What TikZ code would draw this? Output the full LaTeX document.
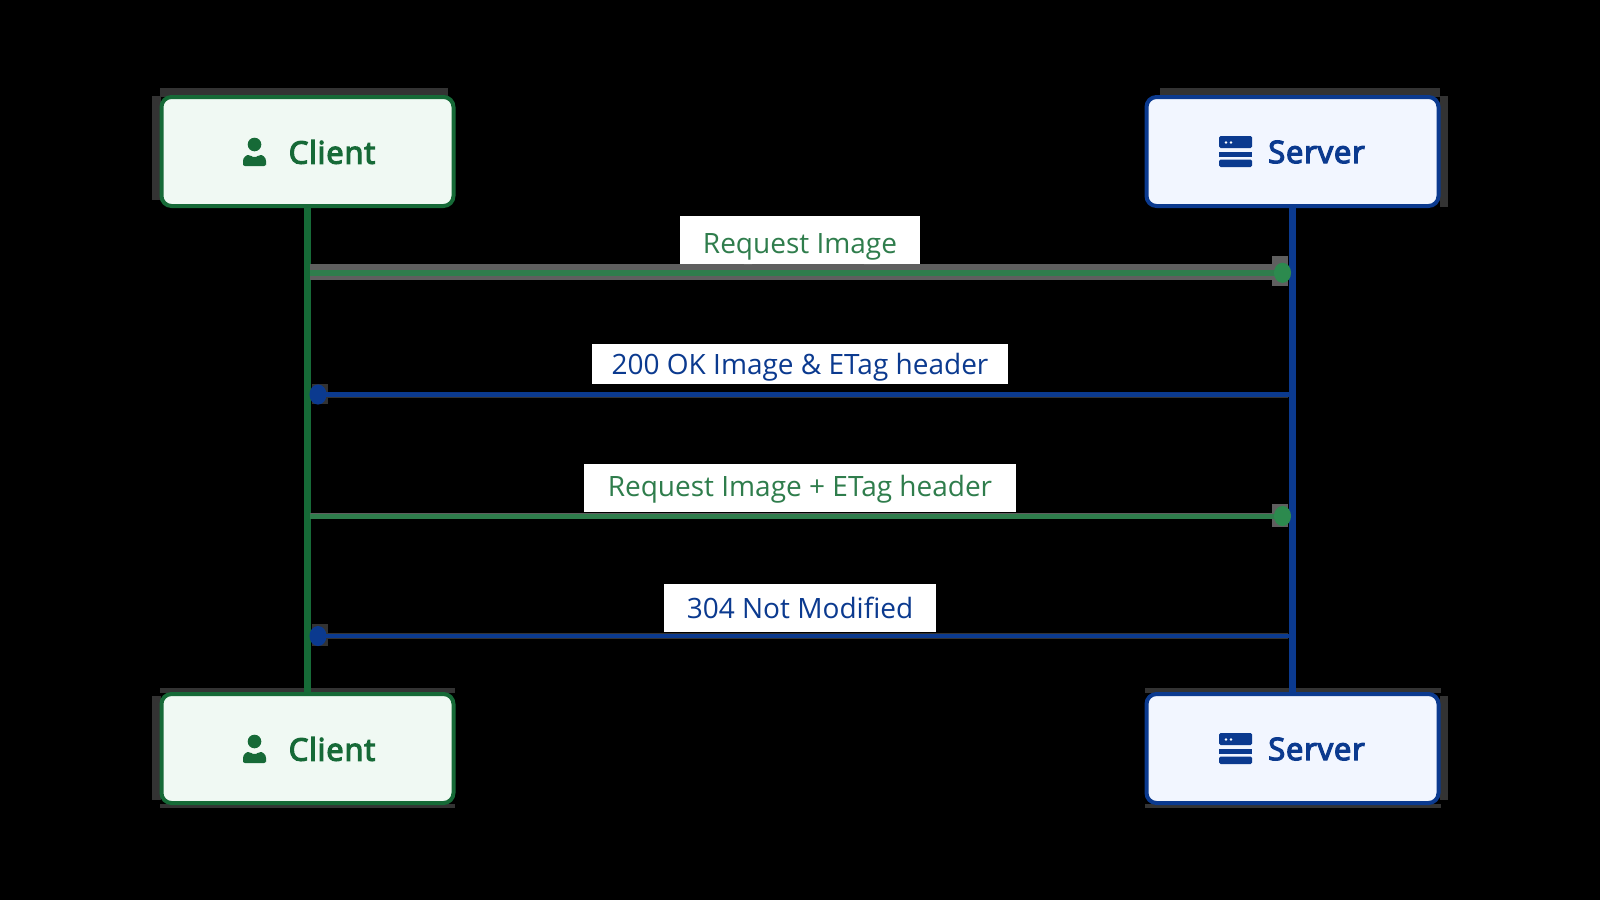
\documentclass[tikz,border=0pt]{standalone}
\usepackage{fontspec}
\setmainfont{Open Sans}
\newfontfamily\medfont[FakeBold=4,LetterSpace=2.5]{Open Sans}
\usetikzlibrary{arrows.meta}
\definecolor{cgreen}{HTML}{166A37}
\definecolor{cfill}{HTML}{F0F9F3}
\definecolor{mgreen}{HTML}{2F7D4C}
\definecolor{hgreen}{HTML}{2C8A4E}
\definecolor{cblue}{HTML}{0B3A8F}
\definecolor{sfill}{HTML}{F2F6FF}
\definecolor{halo}{HTML}{5F5F5F}
\definecolor{halodark}{HTML}{333333}
\newcommand{\lbl}[2]{\raisebox{-#1pt}[0pt][0pt]{#2}}
\tikzset{
  x=1pt,y=-1pt,
  actorbox/.style={draw,line width=4pt,rounded corners=10pt,minimum width=292pt,minimum height=109pt,inner sep=0pt},
  clientbox/.style={actorbox,draw=cgreen,fill=cfill},
  serverbox/.style={actorbox,draw=cblue,fill=sfill},
  actorname/.style={font=\fontsize{31}{36}\selectfont\medfont},
  msglabel/.style={fill=white,inner sep=0pt,font=\fontsize{28}{34}\selectfont},
  greenmsg/.style={draw=mgreen,-{Circle[length=17pt,width=20pt,color=hgreen]}},
  bluemsg/.style={draw=cblue,-{Circle[length=17pt,width=20pt]}},
  halostrip/.style={fill=halodark},
  halomsg/.style={fill=halo},
}
\begin{document}
\begin{tikzpicture}
\useasboundingbox (0,0) rectangle (1600,900);
\fill[black] (0,0) rectangle (1600,900);

% grey traces round the boxes
\fill[halostrip] (160,88) rectangle (448,97);
\fill[halostrip] (152,96) rectangle (161,200);
\fill[halostrip] (1160,88) rectangle (1440,97);
\fill[halostrip] (1440,96) rectangle (1448,207);
\fill[halostrip] (160,688) rectangle (455,693);
\fill[halostrip] (152,696) rectangle (161,800);
\fill[halostrip] (160,804) rectangle (455,808);
\fill[halostrip] (1145,688) rectangle (1441,693);
\fill[halostrip] (1440,696) rectangle (1448,800);
\fill[halostrip] (1145,804) rectangle (1441,808);

\node[clientbox] (ct) at (307.5,151.5) {};
\node[serverbox] (st) at (1292.5,151.5) {};
\node[clientbox] (cb) at (307.5,748.5) {};
\node[serverbox] (sb) at (1292.5,748.5) {};

\node[actorname,text=cgreen] (ctt) at (332,152) {Client};
\node[actorname,text=cblue] (stt) at (1316.5,152) {Server};
\node[actorname,text=cgreen] (cbt) at (332,749) {Client};
\node[actorname,text=cblue] (sbt) at (1316.5,749) {Server};

% icons
\foreach \oy in {0,597}{
  \begin{scope}[yshift=-\oy pt]
    \fill[cgreen] (254.5,144.5) circle (6.8);
    \fill[cgreen,rounded corners=2pt] (243,166) -- (243,163) .. controls (243,157) and (247,155) .. (250,155) -- (254.5,158) -- (259,155) .. controls (262,155) and (266,157) .. (266,163) -- (266,166) -- cycle;
    \fill[cblue,rounded corners=1.5pt] (1219,136) rectangle (1252,148);
    \fill[cblue] (1219,152) rectangle (1252,157);
    \fill[cblue,rounded corners=1.5pt] (1219,159.5) rectangle (1252,167);
    \fill[white] (1226,142.5) circle (1.4) (1231,142.5) circle (1.4);
  \end{scope}
}

% lifelines
\draw[line width=7pt,draw=cgreen] (ct.south) -- (cb.north);
\draw[line width=6.5pt,draw=cblue] (st.south) -- (sb.north);

% grey traces round the messages
\fill[halomsg] (310,264) rectangle (1272,280);
\fill[halomsg] (1272,256) rectangle (1288,286);
\fill[halomsg] (310,513) rectangle (1272,519);
\fill[halomsg] (1272,504) rectangle (1288,527);
\fill[halodark] (326,392) rectangle (1288,398);
\fill[halodark] (312,384) rectangle (328,404);
\fill[halodark] (326,633) rectangle (1288,639);
\fill[halodark] (312,624) rectangle (328,646);
\fill[gray!50] (744,262) rectangle (752,264) (864,262) rectangle (880,264);

% message end points
\coordinate (a1) at (310,272.8);
\coordinate (b1) at (1291,272.8);
\coordinate (a2) at (1289,394.5);
\coordinate (b2) at (309.5,394.5);
\coordinate (a3) at (310,516);
\coordinate (b3) at (1291,516);
\coordinate (a4) at (1289,636);
\coordinate (b4) at (309.5,636);

\draw[greenmsg,line width=6pt] (a1) -- (b1);
\draw[bluemsg,line width=4.5pt] (a2) -- (b2);
\draw[greenmsg,line width=5pt] (a3) -- (b3);
\draw[bluemsg,line width=4.5pt] (a4) -- (b4);

% labels
\node[msglabel,text=mgreen,minimum width=240pt,minimum height=48pt] (l1) at (800,240) {\lbl{13.5}{Request Image}};
\node[msglabel,text=cblue,minimum width=416pt,minimum height=40pt] (l2) at (800,364) {\lbl{10.3}{200 OK Image \& ETag header}};
\node[msglabel,text=mgreen,minimum width=432pt,minimum height=48pt] (l3) at (800,488) {\lbl{8.5}{Request Image + ETag header}};
\node[msglabel,text=cblue,minimum width=272pt,minimum height=48pt] (l4) at (800,608) {\lbl{10.5}{304 Not Modified}};
\end{tikzpicture}
\end{document}
